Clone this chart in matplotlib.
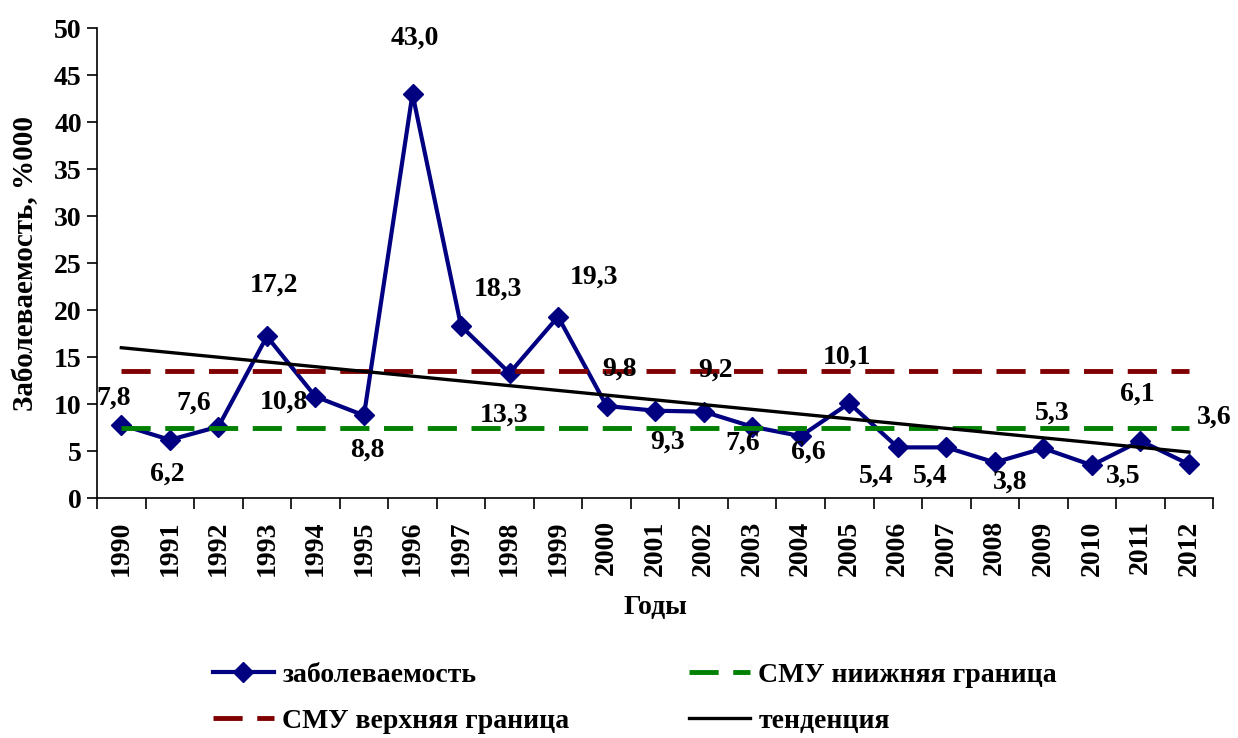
import matplotlib.pyplot as plt

plt.rcParams['font.family'] = ['Liberation Serif', 'DejaVu Serif']
plt.rcParams['font.weight'] = 'bold'

years = [str(y) for y in range(1990, 2013)]
incidence = [7.8, 6.2, 7.6, 17.2, 10.8, 8.8, 43.0, 18.3, 13.3, 19.3, 9.8, 9.3,
             9.2, 7.6, 6.6, 10.1, 5.4, 5.4, 3.8, 5.3, 3.5, 6.1, 3.6]
upper_bound = 13.5
lower_bound = 7.5
trend_ends = [16.0, 4.9]   # trend line value at 1990 and at 2012

# label offsets in pixels (dx, dy), as placed in the original
label_offsets = [(-8, 27), (-3, -34), (-25, 24), (7, 51), (-32, -6), (3, -35),
                 (2, 56), (37, 37), (-6, -42), (36, 40), (13, 37), (12, -31),
                 (12, 41), (-10, -16), (8, -16), (-2, 46), (-22, -29),
                 (-16, -29), (15, -20), (9, 35), (31, -11), (-3, 47), (25, 47)]


def main():
    fig = plt.figure(figsize=(12.38, 7.38), dpi=100)
    ax = fig.add_axes([0.0784, 0.325, 0.9016, 0.637])

    x = list(range(len(years)))
    l1, = ax.plot(x, incidence, color='#000080', lw=3, marker='D', ms=10.5,
                  label='заболеваемость')
    l2, = ax.plot([x[0], x[-1]], [upper_bound, upper_bound], color='#800000',
                  lw=3.5, dashes=(6, 3), label='СМУ верхняя граница')
    l3, = ax.plot([x[0], x[-1]], [lower_bound, lower_bound], color='#008000',
                  lw=3.5, dashes=(6, 3), label='СМУ ниижняя граница')
    l4, = ax.plot([x[0], x[-1]], trend_ends, color='black', lw=2.4,
                  label='тенденция')

    for xi, v, (dx, dy) in zip(x, incidence, label_offsets):
        ax.annotate(f'{v:.1f}'.replace('.', ','), (xi, v), xytext=(dx, dy),
                    textcoords='offset pixels', ha='center', va='center',
                    fontsize=20, fontweight='bold')

    ax.set_xlim(-0.5, len(years) - 0.5)
    ax.set_ylim(0, 50)
    ax.set_yticks(range(0, 51, 5))
    ax.set_xticks(x)
    ax.set_xticklabels(years, rotation=90)
    ax.set_xticks([i - 0.5 for i in range(len(years) + 1)], minor=True)
    ax.tick_params(axis='x', which='major', length=0, pad=16, labelsize=20)
    ax.tick_params(axis='x', which='minor', length=8, width=1.2)
    ax.tick_params(axis='y', length=7, width=1.2, labelsize=20, pad=4)
    for s in ('top', 'right'):
        ax.spines[s].set_visible(False)
    for s in ('left', 'bottom'):
        ax.spines[s].set_linewidth(1.2)

    ax.set_xlabel('Годы', fontsize=20, fontweight='bold', labelpad=14)
    ax.set_ylabel('Заболеваемость, %000', fontsize=21, fontweight='bold',
                  labelpad=11)

    fig.legend(handles=[l1, l2, l3, l4], loc='center left',
               bbox_to_anchor=(0.172, 0.054), ncol=2, frameon=False,
               fontsize=20, handlelength=2.2, columnspacing=4.3,
               labelspacing=0.75, handletextpad=0.3, borderpad=0,
               borderaxespad=0)

    fig.savefig('out.png', dpi=100)


if __name__ == '__main__':
    main()
